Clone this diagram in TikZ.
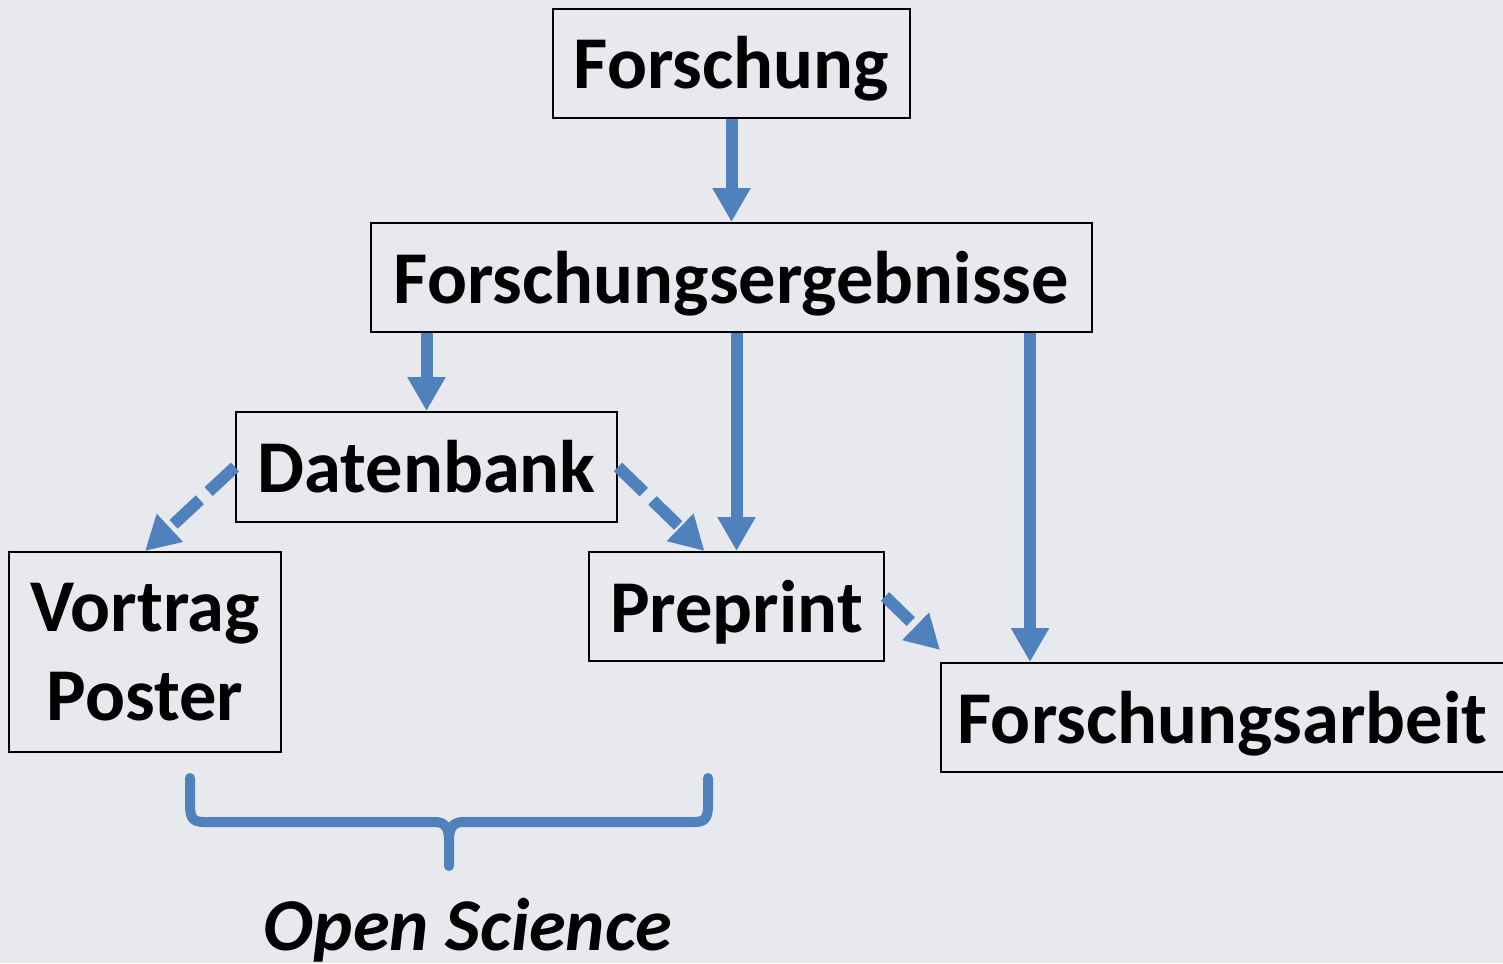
\documentclass[tikz,border=0pt]{standalone}
\usepackage{fontspec}
\setmainfont{Carlito}
\usetikzlibrary{arrows.meta,calc}
\definecolor{bg}{RGB}{231,233,238}
\definecolor{ablue}{RGB}{79,129,189}
\begin{document}
\begin{tikzpicture}[x=1pt,y=-1pt,
  box/.style={draw=black,line width=2pt,inner sep=0pt,font=\fontsize{74.5}{89}\selectfont\bfseries,text height=51pt,text depth=0pt},
  arr/.style={draw=ablue,line width=12pt,-{Triangle[width=36pt,length=34pt]}},
  darr/.style={arr,dash pattern=on 36pt off 12pt},
  brace/.style={draw=ablue,line width=10pt,line cap=round,line join=round}]
\fill[bg] (0,0) rectangle (1503,963);
\useasboundingbox (0,0) rectangle (1503,963);

\node[box,minimum width=357pt,minimum height=109pt] (fo) at (731.5,63.5) {Forschung};
\node[box,minimum width=721pt,minimum height=109pt] (fe) at (731.5,277.5) {Forschungsergebnisse};
\node[box,minimum width=381pt,minimum height=110pt] (db) at (426.5,467) {Datenbank};
\node[box,minimum width=272pt,minimum height=200pt,text height=,text depth=,align=center] (vp) at (145,652) {Vortrag\\Poster};
\node[box,minimum width=295pt,minimum height=109pt] (pp) at (736.5,606.5) {Preprint};
\node[box,minimum width=563pt,minimum height=109pt] (fa) at (1222.5,717.5) {Forschungsarbeit};
\node[font=\fontsize{74.5}{89}\selectfont\bfseries\itshape,anchor=base,inner sep=0pt] (os) at (468,950) {Open Science};

\draw[arr] (fo.south) -- (fe.north);
\draw[arr] (fe.south -| db.north) -- (db.north);
\draw[arr] (fe.south -| pp.north) -- (pp.north);
\coordinate (fx) at ([xshift=-63pt]fe.south east);
\draw[arr] (fx) -- (fx |- fa.north);

\draw[darr] (db.west) -- (vp.north);
\draw[darr] (db.east) -- ([xshift=-32pt]pp.north);
\draw[darr] ([yshift=10pt]pp.east) -- ([yshift=12pt]fa.north west);

\draw[brace] (190,778) -- (190,805) .. controls (190,818) and (193,822) .. (204,822)
  -- (435,822) .. controls (445,822) and (449,828) .. (449,840) -- (449,866);
\draw[brace] (449,840) .. controls (449,828) and (453,822) .. (463,822)
  -- (694,822) .. controls (705,822) and (708,818) .. (708,805) -- (708,778);
\end{tikzpicture}
\end{document}
